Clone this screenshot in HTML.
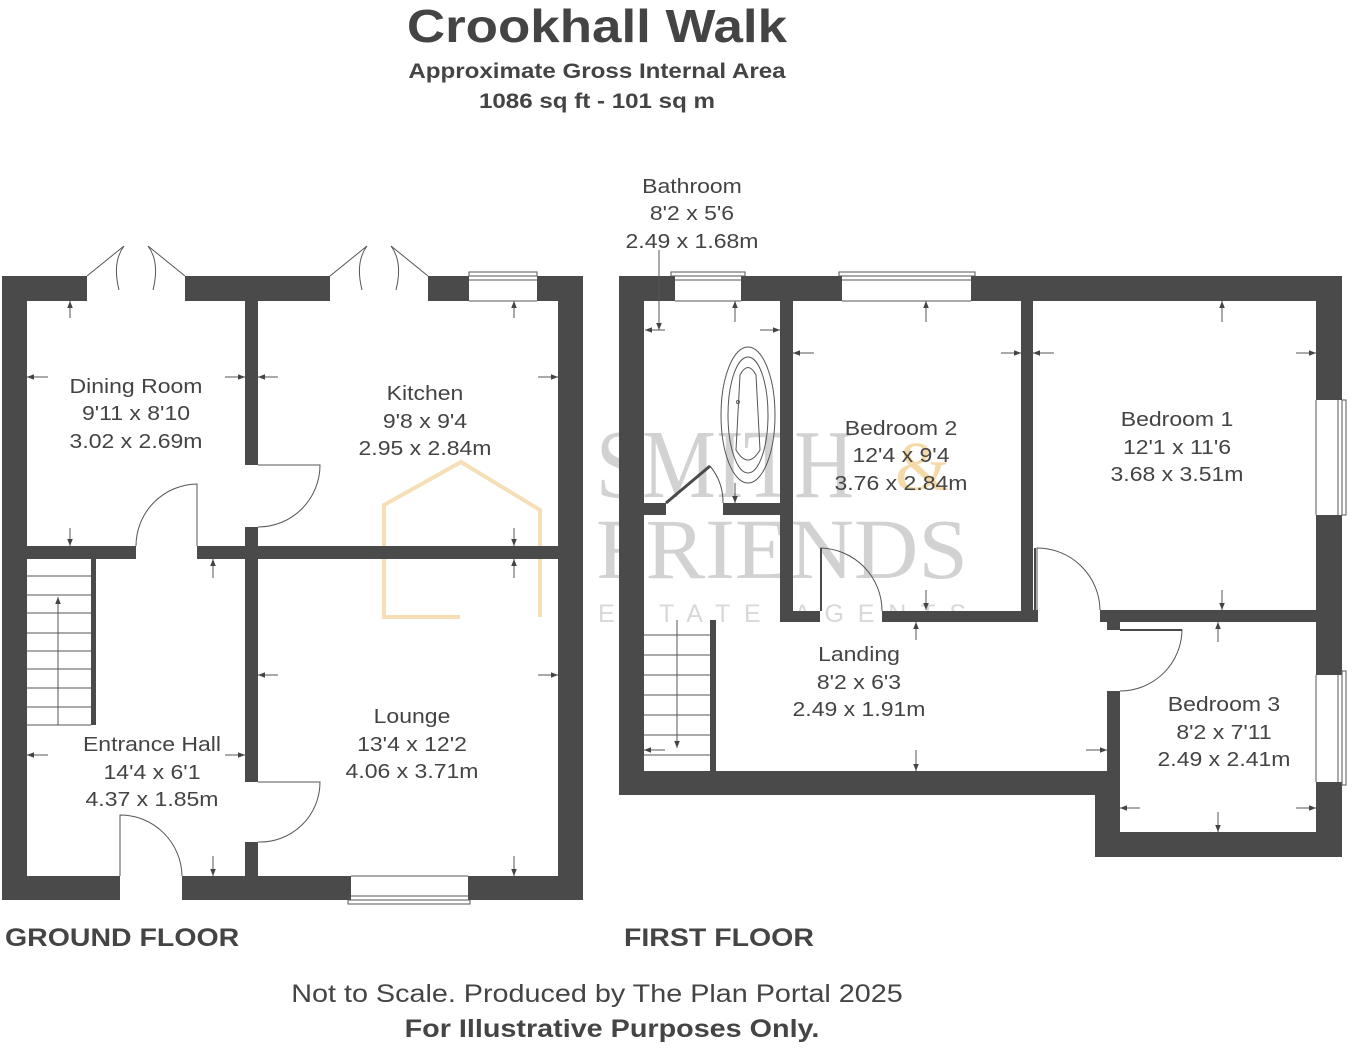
<!DOCTYPE html>
<html><head><meta charset="utf-8"><style>
html,body{margin:0;padding:0;background:#fff;}
svg{display:block;font-family:"Liberation Sans",Arial,sans-serif;}
.s text{transform-box:fill-box;transform-origin:center;transform:scaleX(1.15);}
.l text{transform-box:fill-box;transform-origin:left center;transform:scaleX(1.14);}
</style></head><body>
<svg width="1352" height="1048" viewBox="0 0 1352 1048" xmlns="http://www.w3.org/2000/svg">
<defs>
<marker id="ah" viewBox="0 0 10 10" refX="10" refY="5" markerWidth="7" markerHeight="7" orient="auto-start-reverse"><path d="M0,1 L10,5 L0,9 z" fill="#444"/></marker>
</defs>
<!-- watermark -->
<g fill="#d2d2d2" font-family="Liberation Serif,serif">
<text x="596" y="497" font-size="98" textLength="258" lengthAdjust="spacingAndGlyphs">SMITH</text>
<text x="596" y="578" font-size="86" textLength="372" lengthAdjust="spacingAndGlyphs">FRIENDS</text>
<text x="598" y="622" font-size="25" font-family="Liberation Sans,sans-serif" textLength="368" lengthAdjust="spacing" fill="#d8d8d8">ESTATE AGENTS</text>
</g>
<text x="895" y="490" font-size="70" fill="#f6d9a8" font-family="Liberation Serif,serif">&amp;</text>
<path d="M460,617 L384,617 L384,505 L461,462 L540,510 L540,617" fill="none" stroke="#f6dfb6" stroke-width="4"/>

<g class="s">
<text x="597" y="42" text-anchor="middle" font-size="46" font-weight="bold" fill="#444">Crookhall Walk</text>
<text x="597" y="78" text-anchor="middle" font-size="21" font-weight="bold" fill="#444">Approximate Gross Internal Area</text>
<text x="597" y="108" text-anchor="middle" font-size="21" font-weight="bold" fill="#444">1086 sq ft - 101 sq m</text>
<text x="597" y="1002" text-anchor="middle" font-size="25" fill="#444">Not to Scale. Produced by The Plan Portal 2025</text>
<text x="612" y="1037" text-anchor="middle" font-size="25" font-weight="bold" fill="#444">For Illustrative Purposes Only.</text>
</g>
<g class="l">
<text x="5" y="946" font-size="25" font-weight="bold" fill="#444">GROUND FLOOR</text>
<text x="624" y="946" font-size="25" font-weight="bold" fill="#444">FIRST FLOOR</text>
</g>

<g fill="#4a4a4a">
<rect x="2" y="276" width="85" height="25"/>
<rect x="185" y="276" width="145" height="25"/>
<rect x="428" y="276" width="41" height="25"/>
<rect x="537" y="276" width="46" height="25"/>
<rect x="2" y="276" width="25" height="624"/>
<rect x="558" y="276" width="25" height="624"/>
<rect x="2" y="876" width="118" height="24"/>
<rect x="182" y="876" width="169" height="24"/>
<rect x="468" y="876" width="115" height="24"/>
<rect x="245" y="301" width="13" height="164"/>
<rect x="245" y="527" width="13" height="255"/>
<rect x="245" y="842" width="13" height="34"/>
<rect x="27" y="546" width="109" height="13"/>
<rect x="197" y="546" width="361" height="13"/>
<rect x="91" y="559" width="5" height="166"/>

<rect x="619" y="276" width="56" height="25"/>
<rect x="741" y="276" width="101" height="25"/>
<rect x="971" y="276" width="371" height="25"/>
<rect x="619" y="276" width="25" height="519"/>
<rect x="1316" y="276" width="26" height="124"/>
<rect x="1316" y="515" width="26" height="160"/>
<rect x="1316" y="782" width="26" height="75"/>
<rect x="619" y="771" width="488" height="24"/>
<rect x="1095" y="771" width="25" height="86"/>
<rect x="1107" y="691" width="13" height="166"/>
<rect x="1095" y="832" width="247" height="25"/>
<rect x="644" y="503" width="22" height="12"/>
<rect x="723" y="503" width="57" height="12"/>
<rect x="780" y="301" width="13" height="321"/>
<rect x="780" y="611" width="40" height="11"/>
<rect x="882" y="611" width="151" height="11"/>
<rect x="1021" y="301" width="12" height="321"/>
<rect x="1021" y="610" width="17" height="12"/>
<rect x="1100" y="610" width="216" height="12"/>
<rect x="1107" y="622" width="13" height="8"/>
<rect x="710" y="620" width="6" height="151"/>
</g>

<g fill="none" stroke="#555" stroke-width="1">
<rect x="469" y="272" width="68" height="4"/><line x1="469" y1="280" x2="537" y2="280"/><line x1="469" y1="301" x2="537" y2="301"/>
<rect x="348" y="900" width="122" height="4"/><line x1="351" y1="896" x2="468" y2="896"/><line x1="351" y1="876" x2="468" y2="876"/>
<rect x="671" y="272" width="74" height="4"/><line x1="675" y1="280" x2="741" y2="280"/><line x1="675" y1="301" x2="741" y2="301"/>
<rect x="839" y="272" width="136" height="4"/><line x1="842" y1="280" x2="971" y2="280"/><line x1="842" y1="301" x2="971" y2="301"/>
<rect x="1342" y="400" width="4" height="115"/><line x1="1338" y1="400" x2="1338" y2="515"/><line x1="1316" y1="400" x2="1316" y2="515"/>
<rect x="1342" y="671" width="4" height="114"/><line x1="1338" y1="675" x2="1338" y2="782"/><line x1="1316" y1="675" x2="1316" y2="782"/>
<path d="M87,276 L124,246 M185,276 L148,246 M124,246 Q112,262 119,290 M148,246 Q160,262 153,290" />
<path d="M330,276 L367,246 M428,276 L391,246 M367,246 Q355,262 362,290 M391,246 Q403,262 396,290"/>
<path d="M258,465 L320,465 A62,62 0 0 1 258,527"/>
<path d="M197,546 L197,484 A62,62 0 0 0 136,546"/>
<path d="M258,782 L320,782 A60,60 0 0 1 258,842"/>
<path d="M120,876 L120,815 A62,62 0 0 1 182,876"/>
<path d="M723,503 A57,57 0 0 0 710,466"/>
<path d="M821,611 L821,548 A63,63 0 0 1 882,611"/>
<path d="M1037,610 L1037,548 A63,63 0 0 1 1100,610"/>
<path d="M1120,630 L1182,630 A62,62 0 0 1 1120,691"/>
<ellipse cx="748" cy="415" rx="27" ry="68"/>
<ellipse cx="748" cy="415" rx="20" ry="58"/>
<path d="M740,375 Q748,360 756,375 L760,450 Q748,470 736,450 Z"/>
<circle cx="738" cy="402" r="1.5"/>
<path d="M27,576 H91 M27,595 H91 M27,613 H91 M27,633 H91 M27,651 H91 M27,669 H91 M27,688 H91 M27,707 H91 M27,725 H91 M58,600 V725"/>
<path d="M644,635 H710 M644,655 H710 M644,675 H710 M644,695 H710 M644,715 H710 M644,735 H710 M644,755 H710 M677,620 V735"/>
</g>
<path d="M666,503 L710,466" stroke="#4a4a4a" stroke-width="3"/>
<path d="M1035,610 V548" stroke="#4a4a4a" stroke-width="2"/>
<path d="M1120,630 H1182" stroke="#4a4a4a" stroke-width="2"/>
<path d="M821,611 V548" stroke="#4a4a4a" stroke-width="2"/>

<g stroke="#555" stroke-width="1" marker-end="url(#ah)">
<line x1="70" y1="318" x2="70" y2="301"/><line x1="70" y1="528" x2="70" y2="546"/>
<line x1="48" y1="377" x2="27" y2="377"/><line x1="225" y1="377" x2="245" y2="377"/>
<line x1="278" y1="377" x2="258" y2="377"/><line x1="538" y1="377" x2="558" y2="377"/>
<line x1="514" y1="318" x2="514" y2="301"/><line x1="514" y1="528" x2="514" y2="546"/>
<line x1="514" y1="578" x2="514" y2="559"/><line x1="514" y1="856" x2="514" y2="876"/>
<line x1="213" y1="578" x2="213" y2="559"/><line x1="213" y1="856" x2="213" y2="876"/>
<line x1="278" y1="675" x2="258" y2="675"/><line x1="538" y1="675" x2="558" y2="675"/>
<line x1="48" y1="755" x2="27" y2="755"/><line x1="225" y1="755" x2="245" y2="755"/>
<line x1="58" y1="615" x2="58" y2="597"/>
<line x1="659" y1="250" x2="659" y2="330"/>
<line x1="665" y1="330" x2="645" y2="330"/><line x1="760" y1="330" x2="780" y2="330"/>
<line x1="735" y1="322" x2="735" y2="301"/><line x1="735" y1="483" x2="735" y2="503"/>
<line x1="814" y1="353" x2="793" y2="353"/><line x1="1001" y1="353" x2="1021" y2="353"/>
<line x1="926" y1="322" x2="926" y2="301"/><line x1="926" y1="590" x2="926" y2="610"/>
<line x1="1054" y1="353" x2="1033" y2="353"/><line x1="1296" y1="353" x2="1316" y2="353"/>
<line x1="1222" y1="322" x2="1222" y2="301"/><line x1="1222" y1="590" x2="1222" y2="610"/>
<line x1="916" y1="640" x2="916" y2="622"/><line x1="916" y1="750" x2="916" y2="771"/>
<line x1="665" y1="750" x2="644" y2="750"/><line x1="1086" y1="750" x2="1107" y2="750"/>
<line x1="677" y1="735" x2="677" y2="748"/>
<line x1="1218" y1="642" x2="1218" y2="622"/><line x1="1218" y1="812" x2="1218" y2="832"/>
<line x1="1140" y1="808" x2="1120" y2="808"/><line x1="1296" y1="808" x2="1316" y2="808"/>
</g>

<g class="s" fill="#444" font-size="20" text-anchor="middle">
<text x="136" y="393">Dining Room</text><text x="136" y="420">9'11 x 8'10</text><text x="136" y="448">3.02 x 2.69m</text>
<text x="425" y="400">Kitchen</text><text x="425" y="428">9'8 x 9'4</text><text x="425" y="455">2.95 x 2.84m</text>
<text x="152" y="751">Entrance Hall</text><text x="152" y="779">14'4 x 6'1</text><text x="152" y="806">4.37 x 1.85m</text>
<text x="412" y="723">Lounge</text><text x="412" y="751">13'4 x 12'2</text><text x="412" y="778">4.06 x 3.71m</text>
<text x="692" y="193">Bathroom</text><text x="692" y="220">8'2 x 5'6</text><text x="692" y="248">2.49 x 1.68m</text>
<text x="901" y="435">Bedroom 2</text><text x="901" y="462">12'4 x 9'4</text><text x="901" y="490">3.76 x 2.84m</text>
<text x="1177" y="426">Bedroom 1</text><text x="1177" y="454">12'1 x 11'6</text><text x="1177" y="481">3.68 x 3.51m</text>
<text x="859" y="661">Landing</text><text x="859" y="689">8'2 x 6'3</text><text x="859" y="716">2.49 x 1.91m</text>
<text x="1224" y="711">Bedroom 3</text><text x="1224" y="739">8'2 x 7'11</text><text x="1224" y="766">2.49 x 2.41m</text>
</g>
</svg>
</body></html>
